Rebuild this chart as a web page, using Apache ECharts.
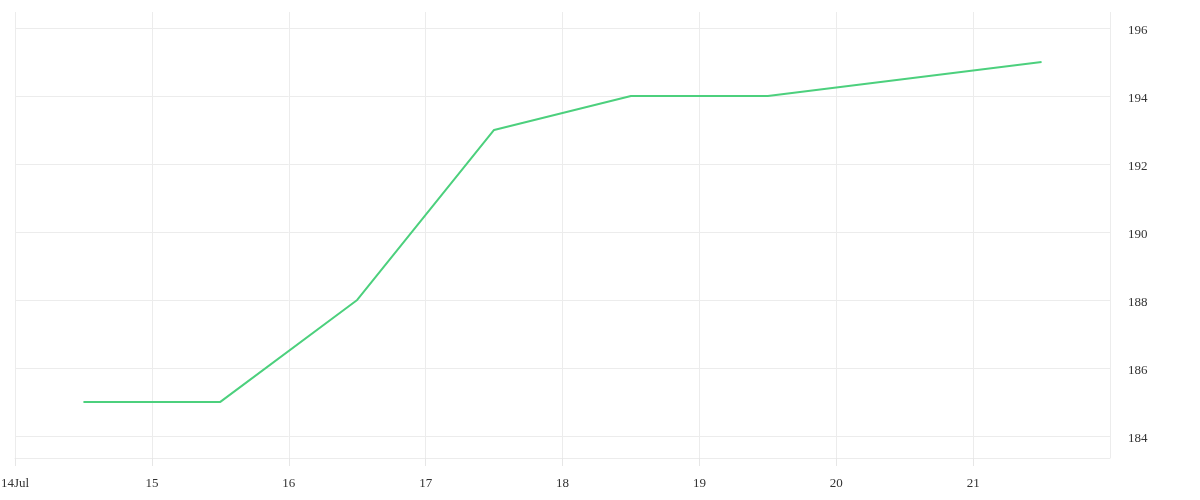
<!DOCTYPE html>
<html>
<head>
<meta charset="utf-8">
<script src="https://cdn.jsdelivr.net/npm/echarts@6/dist/echarts.min.js"></script>
<style>html,body{margin:0;padding:0;background:#fff}#c{width:1200px;height:500px}</style>
</head>
<body>
<div id="c"></div>
<script>
var dates = ['2024-07-14 12:00','2024-07-15 12:00','2024-07-16 12:00','2024-07-17 12:00','2024-07-18 12:00','2024-07-19 12:00','2024-07-21 12:00'];
var values = [185,185,188,193,194,194,195];
var yTicks = [184,186,188,190,192,194,196];

var chart = echarts.init(document.getElementById('c'));
var FONT = 'Liberation Serif';
chart.setOption({
  animation: false,
  grid: {left: 15, right: 90, top: 12, bottom: 42, containLabel: false, outerBoundsMode: 'none'},
  xAxis: {
    type: 'time',
    min: new Date('2024-07-14T00:00:00').getTime(),
    max: new Date('2024-07-22T00:00:00').getTime(),
    interval: 86400000,
    minInterval: 86400000,
    maxInterval: 86400000,
    axisLine: {show: true, lineStyle: {color: '#ececec'}},
    axisTick: {show: true, length: 8, inside: false, lineStyle: {color: '#e6e6e6'}},
    splitLine: {show: true, lineStyle: {color: '#ececec'}},
    axisLabel: {
      color: '#333', fontFamily: FONT, fontSize: 13, margin: 19,
      showMaxLabel: false,
      formatter: function (v) {
        var d = new Date(v);
        if (d.getDate() === 14) return d.getDate() + 'Jul';
        return '' + d.getDate();
      }
    }
  },
  yAxis: {
    type: 'value',
    position: 'right',
    min: 183.35,
    max: 196.47,
    axisLine: {show: false},
    axisTick: {show: false, customValues: yTicks},
    splitLine: {show: true, lineStyle: {color: '#ececec'}},
    axisLabel: {
      color: '#333', fontFamily: FONT, fontSize: 13, margin: 18,
      customValues: yTicks,
      formatter: function (v) { return '{a|' + v + '}'; },
      rich: {a: {color: '#333', fontFamily: FONT, fontSize: 13, padding: [5, 0, 0, 0]}}
    }
  },
  series: [{
    type: 'line',
    data: dates.map(function (d, i) { return [d, values[i]]; }),
    showSymbol: false,
    symbol: 'none',
    lineStyle: {color: '#4cd07d', width: 2},
    itemStyle: {color: '#4cd07d'}
  }]
});
</script>
</body>
</html>
